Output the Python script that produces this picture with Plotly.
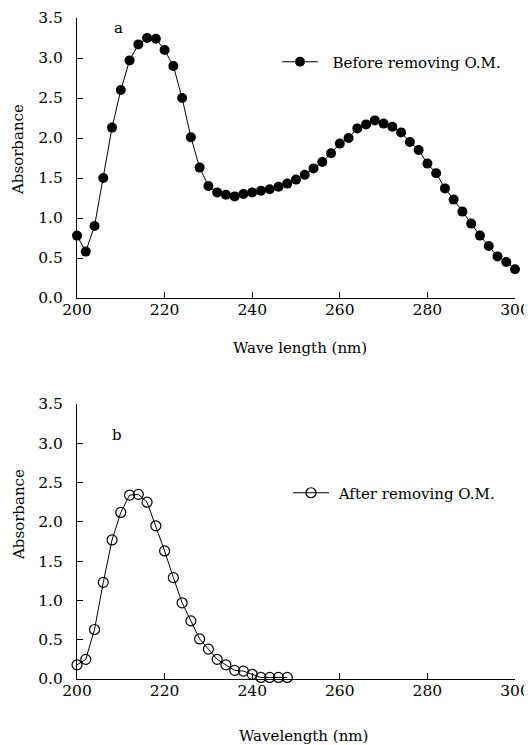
import plotly.graph_objects as go
from plotly.subplots import make_subplots

FONT = "DejaVu Serif"
INK = "#000000"
NBSP = "\u00a0"

# panel a: before removing organic matter
wave_a = list(range(200, 301, 2))
absorb_a = [
    0.78, 0.58, 0.90, 1.50, 2.13, 2.60, 2.97, 3.17, 3.25, 3.24,
    3.10, 2.90, 2.50, 2.01, 1.63, 1.40, 1.32, 1.29, 1.27, 1.30,
    1.32, 1.34, 1.36, 1.39, 1.43, 1.48, 1.54, 1.62, 1.70, 1.81,
    1.93, 2.00, 2.12, 2.17, 2.22, 2.18, 2.14, 2.07, 1.95, 1.85,
    1.68, 1.56, 1.37, 1.23, 1.08, 0.93, 0.78, 0.65, 0.52, 0.45,
    0.36,
]

# panel b: after removing organic matter
wave_b = list(range(200, 249, 2))
absorb_b = [
    0.18, 0.25, 0.63, 1.23, 1.77, 2.12, 2.34, 2.35, 2.25, 1.95,
    1.63, 1.29, 0.97, 0.74, 0.51, 0.38, 0.25, 0.18, 0.11, 0.10,
    0.06, 0.02, 0.02, 0.02, 0.02,
]

x_ticks = [200, 220, 240, 260, 280, 300]
y_ticks = [0.0, 0.5, 1.0, 1.5, 2.0, 2.5, 3.0, 3.5]

# the page body adds an 8px margin, so the figure is 8px smaller each way
FIG_W, FIG_H = 524, 737
MARGIN_L, MARGIN_R, MARGIN_T, MARGIN_B = 69, 17, 10, 66
PLOT_W = FIG_W - MARGIN_L - MARGIN_R
PLOT_H = FIG_H - MARGIN_T - MARGIN_B
PAGE_LEFT = MARGIN_L + 8
PAGE_BOTTOM = FIG_H - MARGIN_B + 8


def px_x(p):
    # page pixel -> paper fraction
    return (p - PAGE_LEFT) / PLOT_W


def px_y(p):
    return (PAGE_BOTTOM - p) / PLOT_H


fig = make_subplots(rows=2, cols=1, vertical_spacing=0.0)

fig.add_trace(go.Scatter(
    x=wave_a, y=absorb_a, mode="lines+markers",
    name=NBSP * 2 + "Before removing O.M.",
    line=dict(color=INK, width=1),
    marker=dict(symbol="circle", size=10, color=INK),
    cliponaxis=False, legend="legend",
), row=1, col=1)

fig.add_trace(go.Scatter(
    x=wave_b, y=absorb_b, mode="lines+markers",
    name=NBSP + "After removing O.M.",
    line=dict(color=INK, width=1),
    marker=dict(symbol="circle-open", size=10, color=INK, line=dict(width=1.2)),
    cliponaxis=False, legend="legend2",
), row=2, col=1)

axis_common = dict(
    showline=True, linecolor=INK, linewidth=1.2, mirror=False,
    showgrid=False, zeroline=False, automargin=False,
    ticks="inside", ticklen=6, tickwidth=1, tickcolor=INK,
    tickfont=dict(family=FONT, size=15.5, color=INK),
    ticklabeloverflow="allow",
)

fig.update_xaxes(axis_common, range=[200, 300], tickvals=x_ticks, ticklabelstandoff=-3)
fig.update_yaxes(axis_common, range=[0, 3.5], tickvals=y_ticks, tickformat=".1f",
                 ticklabelstandoff=10)

fig.update_layout(
    yaxis=dict(domain=[px_y(298), 1.0]),
    yaxis2=dict(domain=[0.0, px_y(404)]),
)

text_font = dict(family=FONT, size=15, color=INK)
annotations = [
    dict(text="Absorbance", x=px_x(18), y=px_y(150), textangle=-90),
    dict(text="Absorbance", x=px_x(19), y=px_y(515), textangle=-90),
    dict(text="Wave length (nm)", x=px_x(300), y=px_y(348)),
    dict(text="Wavelength (nm)", x=px_x(303), y=px_y(736)),
    dict(text="a", x=px_x(118), y=px_y(28)),
    dict(text="b", x=px_x(117), y=px_y(435)),
]
for a in annotations:
    a.update(xref="paper", yref="paper", showarrow=False, font=text_font,
             xanchor="center", yanchor="middle")

fig.update_layout(
    width=FIG_W, height=FIG_H,
    margin=dict(l=MARGIN_L, r=MARGIN_R, t=MARGIN_T, b=MARGIN_B, autoexpand=False),
    paper_bgcolor="white", plot_bgcolor="white",
    annotations=annotations,
    showlegend=True,
    legend=dict(x=px_x(277), y=px_y(62), xanchor="left", yanchor="middle",
                font=text_font, itemwidth=36, bgcolor="rgba(0,0,0,0)"),
    legend2=dict(x=px_x(288), y=px_y(493), xanchor="left", yanchor="middle",
                 font=text_font, itemwidth=36, bgcolor="rgba(0,0,0,0)"),
)

fig.write_html("out.html")
